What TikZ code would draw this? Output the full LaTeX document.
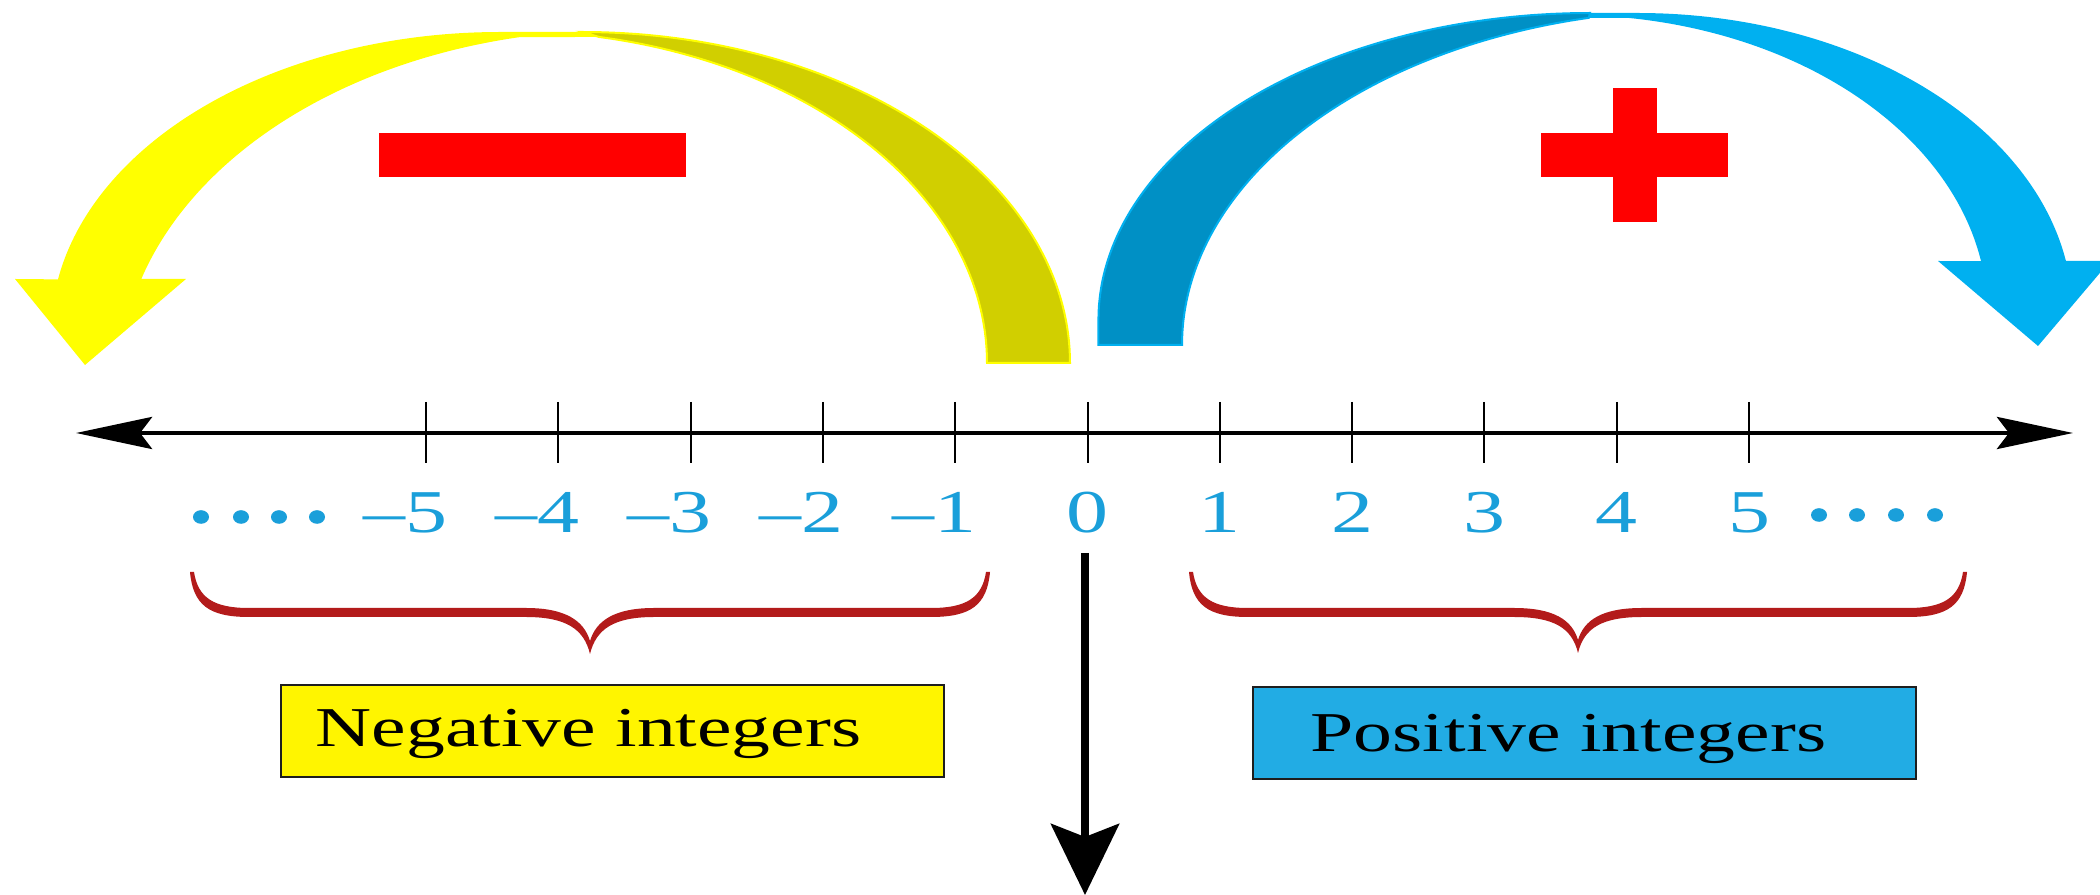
\documentclass[tikz,border=0pt]{standalone}
\usepackage{fontspec}
\setmainfont{Liberation Serif}
\usepackage{graphicx}
\usetikzlibrary{arrows.meta}
\definecolor{yelA}{HTML}{FFFF00}
\definecolor{oliveA}{HTML}{D1CF00}
\definecolor{blueL}{HTML}{00B0F0}
\definecolor{blueD}{HTML}{0090C5}
\definecolor{numblue}{HTML}{1A9FDA}
\definecolor{bracered}{HTML}{B31B1B}
\definecolor{negfill}{HTML}{FFF500}
\definecolor{posfill}{HTML}{22ACE4}
\definecolor{boxline}{HTML}{1E1E1E}
\definecolor{signred}{HTML}{FF0000}
\newcommand{\mybrace}[3]{% center x, half width, tip y
  \fill[bracered] ({#1-#2-1},572) .. controls ({#1-#2+2},605) and ({#1-#2+18},617) .. ({#1-#2+58},617)
    -- ({#1-64},617) .. controls ({#1-24},617) and ({#1-6},{#3-25}) .. (#1,#3)
    .. controls ({#1+6},{#3-25}) and ({#1+24},617) .. ({#1+64},617)
    -- ({#1+#2-58},617) .. controls ({#1+#2-18},617) and ({#1+#2-2},605) .. ({#1+#2+1},572)
    -- ({#1+#2-3},572) .. controls ({#1+#2-7},598) and ({#1+#2-23},608) .. ({#1+#2-58},608)
    -- ({#1+64},608) .. controls ({#1+24},608) and ({#1+6},{#3-33}) .. (#1,{#3-13})
    .. controls ({#1-6},{#3-33}) and ({#1-24},608) .. ({#1-64},608)
    -- ({#1-#2+58},608) .. controls ({#1-#2+23},608) and ({#1-#2+7},598) .. ({#1-#2+3},572) -- cycle;}
\begin{document}
\begin{tikzpicture}[x=0.01cm,y=-0.01cm,
  numlbl/.style={text=numblue, inner sep=0, anchor=base, font=\fontsize{17.3}{20}\selectfont},
  boxlbl/.style={text=black, inner sep=0, anchor=base west, font=\fontsize{16}{19}\selectfont},
  labelbox/.style={draw=boxline, line width=0.02cm, inner sep=0, anchor=north west, minimum width=6.63cm, minimum height=0.915cm},
  tickline/.style={line width=0.02cm, black},
  dotmark/.style={fill=numblue},
]
\useasboundingbox (0,0) rectangle (2100,895);

% ---- big curved arrows (elliptic ribbons) ----
% yellow: back (olive) part
\filldraw[fill=oliveA, draw=yelA, line width=0.02cm]
  plot[smooth, samples=40, domain=0:-90] ({582.5+487.5*cos(\x)},{363+331*sin(\x)})
  -- plot[smooth, samples=40, domain=-79.15:0] ({509+478*cos(\x)},{363+332*sin(\x)}) -- cycle;
% yellow: front part with head
\fill[yelA]
  (582.5,32)
  -- plot[smooth, samples=50, domain=-90:-169.9] ({500+449*cos(\x)},{332+300*sin(\x)})
  -- (15,279) -- (85,365) -- (186,279)
  -- plot[smooth, samples=50, domain=-163.2:-101.5] ({620+500*cos(\x)},{380+350*sin(\x)})
  -- (599,37) -- cycle;
% blue: back (dark) part
\filldraw[fill=blueD, draw=blueL, line width=0.02cm]
  (1098.4,345)
  -- plot[smooth, samples=40, domain=180:270] ({1590+491.6*cos(\x)},{320+307*sin(\x)})
  -- plot[smooth, samples=40, domain=257.6:180] ({1700+518*cos(\x)},{345+335*sin(\x)}) -- cycle;
% blue: front part with head
\fill[blueL]
  (1590,13)
  -- plot[smooth, samples=50, domain=270:350] ({1638+434.5*cos(\x)},{313+300*sin(\x)})
  -- (2110,261) -- (2038,346) -- (1938,261)
  -- plot[smooth, samples=50, domain=350:278.1] ({1570.4+417*cos(\x)},{313+298*sin(\x)})
  -- (1589,18) -- cycle;

% ---- red signs ----
\fill[signred] (379,133) rectangle (686,177);
\fill[signred] (1541,133) rectangle (1728,177);
\fill[signred] (1613,88) rectangle (1657,222);

% ---- number line ----
\coordinate (nl) at (76,433);
\coordinate (nr) at (2073,433);
\draw[line width=0.045cm, {Stealth[length=0.76cm,width=0.32cm,inset=0.12cm]}-{Stealth[length=0.76cm,width=0.32cm,inset=0.12cm]}] (nl) -- (nr);
\foreach \k in {-5,...,5} {
  \coordinate (ta\k) at ({1087.5+132.3*\k},402);
  \coordinate (tb\k) at ({1087.5+132.3*\k},463);
  \draw[tickline] (ta\k) -- (tb\k);
}

% ---- labels ----
\node[numlbl] (lm5) at (426,533)    {\scalebox{1.38}[1]{\llap{\textendash}5}};
\node[numlbl] (lm4) at (558.3,533)  {\scalebox{1.38}[1]{\llap{\textendash}4}};
\node[numlbl] (lm3) at (690.6,533)  {\scalebox{1.38}[1]{\llap{\textendash}3}};
\node[numlbl] (lm2) at (822.9,533)  {\scalebox{1.38}[1]{\llap{\textendash}2}};
\node[numlbl] (lm1) at (955.2,533)  {\scalebox{1.38}[1]{\llap{\textendash}1}};
\node[numlbl] (l0)  at (1087.5,533) {\scalebox{1.38}[1]{0}};
\node[numlbl] (l1)  at (1219.8,533) {\scalebox{1.38}[1]{1}};
\node[numlbl] (l2)  at (1352.1,533) {\scalebox{1.38}[1]{2}};
\node[numlbl] (l3)  at (1484.4,533) {\scalebox{1.38}[1]{3}};
\node[numlbl] (l4)  at (1616.7,533) {\scalebox{1.38}[1]{4}};
\node[numlbl] (l5)  at (1749,533)   {\scalebox{1.38}[1]{5}};

% ---- dots ----
\foreach \xx in {201,241,279,317} { \fill[dotmark] (\xx,517) ellipse [x radius=8, y radius=6.8]; }
\foreach \xx in {1819,1857,1896,1935} { \fill[dotmark] (\xx,515) ellipse [x radius=8, y radius=6.8]; }

% ---- braces ----
\mybrace{590}{399}{654}
\mybrace{1578}{388}{653}

% ---- boxes ----
\node[labelbox, fill=negfill] (negbox) at (280,684) {};
\node[boxlbl] (negtxt) at (315,747) {\scalebox{1.38}[1]{Negative integers}};
\node[labelbox, fill=posfill] (posbox) at (1252,686) {};
\node[boxlbl] (postxt) at (1310,752) {\scalebox{1.38}[1]{Positive integers}};

% ---- down arrow ----
\coordinate (zd1) at (1085,553);
\coordinate (zd2) at (1085,895);
\draw[line width=0.08cm, -{Stealth[length=0.71cm,width=0.68cm,inset=0.13cm]}] (zd1) -- (zd2);
\end{tikzpicture}
\end{document}
